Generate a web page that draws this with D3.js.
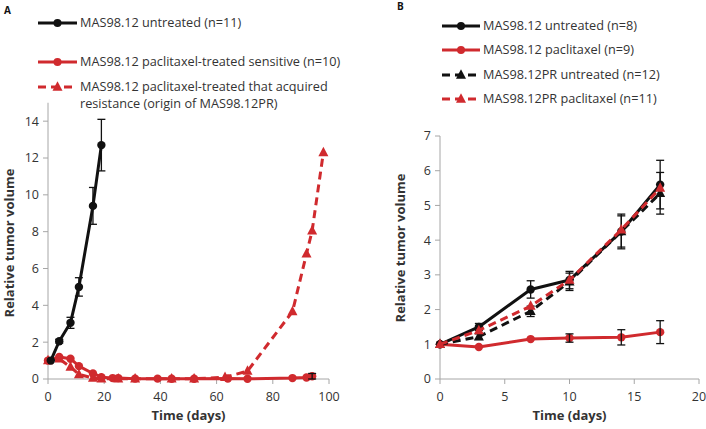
<!DOCTYPE html>
<html><head><meta charset="utf-8">
<script src="https://cdn.jsdelivr.net/npm/d3@7"></script>
<style>body{margin:0;background:#fff}svg{display:block}text{font-family:"Open Sans",sans-serif}</style>
</head><body><svg id="c" width="706" height="429"></svg>
<script>
// ---------- Panel A data ----------
const aUntreatedX = [1, 4, 8, 11, 16, 19];
const aUntreatedY = [1, 2.05, 3.05, 5.0, 9.4, 12.7];
const aUntreatedE = [0, 0.1, 0.3, 0.5, 1.0, 1.4];
const aSensitiveX = [0, 4, 8, 11, 16, 19, 23, 25, 31, 39, 44, 52, 64, 71, 87, 92, 94];
const aSensitiveY = [1, 1.2, 1.1, 0.7, 0.3, 0.1, 0.05, 0.05, 0.02, 0.02, 0.01, 0.01, 0.03, 0.01, 0.05, 0.08, 0.15];
const aSensitiveE = [0, 0, 0, 0, 0, 0, 0, 0, 0, 0, 0, 0, 0, 0, 0, 0, 0.15];
const aResistX = [0, 4, 8, 11, 16, 19, 25, 31, 44, 52, 63, 71, 87, 92, 94, 98];
const aResistY = [1, 1.1, 0.65, 0.25, 0.05, 0.02, 0.01, 0.01, 0.01, 0.01, 0.1, 0.43, 3.66, 6.8, 8.05, 12.3];
const aTicksY = [0, 2, 4, 6, 8, 10, 12, 14];
const aTicksX = [0, 20, 40, 60, 80, 100];
const aLegend = ["MAS98.12 untreated (n=11)", "MAS98.12 paclitaxel-treated sensitive (n=10)",
  "MAS98.12 paclitaxel-treated that acquired", "resistance (origin of MAS98.12PR)"];

// ---------- Panel B data ----------
const bDays = [0, 3, 7, 10, 14, 17];
const bUntreated = [1, 1.5, 2.58, 2.85, 4.25, 5.6];
const bUntreatedE = [0, 0.1, 0.25, 0.25, 0.5, 0.7];
const bPaclitaxel = [1, 0.92, 1.15, 1.18, 1.2, 1.35];
const bPaclitaxelE = [0, 0, 0, 0.12, 0.22, 0.33];
const bPRUntreated = [1, 1.22, 1.95, 2.8, 4.25, 5.35];
const bPRUntreatedE = [0, 0.08, 0.15, 0.25, 0.45, 0.6];
const bPRPaclitaxel = [1, 1.4, 2.1, 2.85, 4.3, 5.5];
const bPRPaclitaxelE = [0, 0, 0, 0, 0, 0];
const bTicksY = [0, 1, 2, 3, 4, 5, 6, 7];
const bTicksX = [0, 5, 10, 15, 20];
const bLegend = ["MAS98.12 untreated (n=8)", "MAS98.12 paclitaxel (n=9)",
  "MAS98.12PR untreated (n=12)", "MAS98.12PR paclitaxel (n=11)"];

const BLACK = "#111", RED = "#d02a2e", AXIS = "#a6a6a6", TXT = "#333";
const svg = d3.select("#c");

function tri(r){ return `M0,${-r*1.15}L${r},${r*0.75}L${-r},${r*0.75}Z`; }

function axes(g, x, y, xt, yt, ymaxAxis){
  const [x0] = x.range(); const y0 = y(0);
  g.append("line").attr("x1", x0).attr("x2", x0).attr("y1", y0).attr("y2", y(ymaxAxis)).attr("stroke", AXIS);
  g.append("line").attr("x1", x0).attr("x2", x.range()[1]).attr("y1", y0).attr("y2", y0).attr("stroke", AXIS);
  yt.forEach(t => {
    g.append("line").attr("x1", x0-5).attr("x2", x0).attr("y1", y(t)).attr("y2", y(t)).attr("stroke", AXIS);
    g.append("text").attr("x", x0-9).attr("y", y(t)).attr("dy", "0.35em").attr("text-anchor","end")
      .attr("font-size", 12.5).attr("fill", TXT).text(t);
  });
  xt.forEach(t => {
    g.append("line").attr("x1", x(t)).attr("x2", x(t)).attr("y1", y0).attr("y2", y0+5).attr("stroke", AXIS);
    g.append("text").attr("x", x(t)).attr("y", y0+18).attr("dy", "0.35em").attr("text-anchor","middle")
      .attr("font-size", 12.5).attr("fill", TXT).text(t);
  });
}

function series(g, x, y, xs, ys, es, color, dashed, marker){
  const pts = xs.map((d,i)=>[d, ys[i], es[i]||0]);
  const line = d3.line().x(d=>x(d[0])).y(d=>y(d[1]));
  g.append("path").attr("d", line(pts)).attr("fill","none").attr("stroke", color)
    .attr("stroke-width", 3).attr("stroke-dasharray", dashed ? "8,5" : null).attr("stroke-linejoin","round");
  pts.forEach(p => {
    if (marker === "circle") g.append("circle").attr("cx", x(p[0])).attr("cy", y(p[1])).attr("r", 4.2).attr("fill", color);
    else g.append("path").attr("d", tri(5)).attr("transform", `translate(${x(p[0])},${y(p[1])})`).attr("fill", color);
  });
  pts.filter(p=>p[2]>0).forEach(p => {
    const cx = x(p[0]), t = y(p[1]+p[2]), b = y(Math.max(0,p[1]-p[2]));
    g.append("line").attr("x1",cx).attr("x2",cx).attr("y1",t).attr("y2",b).attr("stroke",BLACK).attr("stroke-width",1.3);
    [t,b].forEach(yy => g.append("line").attr("x1",cx-4).attr("x2",cx+4).attr("y1",yy).attr("y2",yy).attr("stroke",BLACK).attr("stroke-width",1.3));
  });
}

function legendItem(g, x1, x2, yy, color, dashed, marker, label){
  g.append("line").attr("x1",x1).attr("x2",x2).attr("y1",yy).attr("y2",yy).attr("stroke",color)
    .attr("stroke-width",3).attr("stroke-dasharray", dashed ? "8,5" : null);
  const cx = (x1+x2)/2;
  if (marker==="circle") g.append("circle").attr("cx",cx).attr("cy",yy).attr("r",4).attr("fill",color);
  else g.append("path").attr("d",tri(5)).attr("transform",`translate(${cx},${yy})`).attr("fill",color);
  if (label!=null) {
    const lines = Array.isArray(label) ? label : [label];
    const t = g.append("text").attr("x",x2+3).attr("y",yy).attr("font-size",12.7).attr("fill",TXT);
    lines.forEach((s,i)=> t.append("tspan").attr("x",x2+3).attr("dy", i===0 ? "0.35em" : "16.5px").text(s));
  }
}

// ---------- Panel A ----------
{
  const g = svg.append("g");
  const x = d3.scaleLinear().domain([0,100]).range([48,329]);
  const y = d3.scaleLinear().domain([0,12]).range([379,158]);
  axes(g, x, y, aTicksX, aTicksY, 15);
  series(g, x, y, aSensitiveX, aSensitiveY, aSensitiveE, RED, false, "circle");
  series(g, x, y, aResistX, aResistY, aResistX.map(()=>0), RED, true, "tri");
  series(g, x, y, aUntreatedX, aUntreatedY, aUntreatedE, BLACK, false, "circle");
  g.append("text").attr("x",4).attr("y",14).attr("font-size",10).attr("font-weight","bold").attr("fill","#111").text("A");
  legendItem(g, 38, 77, 23, BLACK, false, "circle", aLegend[0]);
  legendItem(g, 38, 77, 62, RED, false, "circle", aLegend[1]);
  legendItem(g, 38, 77, 87, RED, true, "tri", [aLegend[2], aLegend[3]]);
  g.append("text").attr("transform","translate(14,243) rotate(-90)").attr("text-anchor","middle")
    .attr("font-size",13).attr("font-weight","bold").attr("fill",TXT).text("Relative tumor volume");
  g.append("text").attr("x",x(50)).attr("y",420).attr("text-anchor","middle")
    .attr("font-size",13).attr("font-weight","bold").attr("fill",TXT).text("Time (days)");
}

// ---------- Panel B ----------
{
  const g = svg.append("g");
  const x = d3.scaleLinear().domain([0,20]).range([440,699]);
  const y = d3.scaleLinear().domain([0,7]).range([379,136]);
  axes(g, x, y, bTicksX, bTicksY, 7);
  series(g, x, y, bDays, bPaclitaxel, bPaclitaxelE, RED, false, "circle");
  series(g, x, y, bDays, bUntreated, bUntreatedE, BLACK, false, "circle");
  series(g, x, y, bDays, bPRUntreated, bPRUntreatedE, BLACK, true, "tri");
  series(g, x, y, bDays, bPRPaclitaxel, bPRPaclitaxelE, RED, true, "tri");
  g.append("text").attr("x",397).attr("y",10).attr("font-size",10).attr("font-weight","bold").attr("fill","#111").text("B");
  legendItem(g, 442, 480, 26, BLACK, false, "circle", bLegend[0]);
  legendItem(g, 442, 480, 50, RED, false, "circle", bLegend[1]);
  legendItem(g, 442, 480, 75, BLACK, true, "tri", bLegend[2]);
  legendItem(g, 442, 480, 99, RED, true, "tri", bLegend[3]);
  g.append("text").attr("transform","translate(405,248) rotate(-90)").attr("text-anchor","middle")
    .attr("font-size",13).attr("font-weight","bold").attr("fill",TXT).text("Relative tumor volume");
  g.append("text").attr("x",x(10)).attr("y",420).attr("text-anchor","middle")
    .attr("font-size",13).attr("font-weight","bold").attr("fill",TXT).text("Time (days)");
}
</script></body></html>
